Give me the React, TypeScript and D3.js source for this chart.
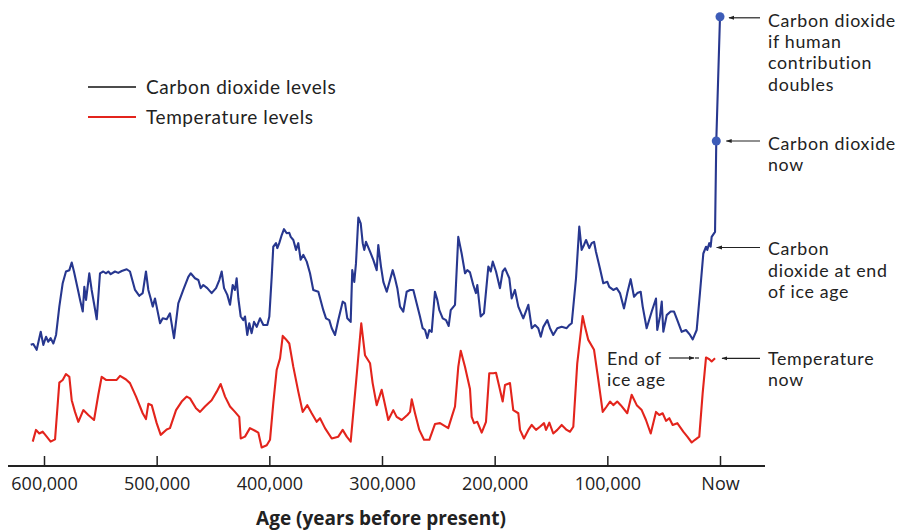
import React, { useEffect, useRef } from "react";
import * as d3 from "d3";

// Age in thousands of years before present (ka); level in relative units (0-100)
const co2Age = [611.8,609.5,606.5,602.9,600.6,598.2,596.2,594.1,591.7,589.3,586.4,583.4,580.5,577.5,575.4,573.4,569.5,568.0,565.6,564.2,562.7,559.8,557.7,555.6,553.2,550.3,547.4,545.0,542.9,540.8,537.0,534.1,531.0,526.6,523.7,519.2,515.4,512.4,509.5,507.4,505.3,503.5,501.5,500.0,497.0,494.6,491.1,488.2,484.6,480.8,476.4,471.9,469.8,466.0,463.0,460.9,458.6,455.1,451.2,447.3,444.4,442.3,440.2,437.3,434.9,432.5,430.5,429.0,427.5,425.4,423.1,421.6,419.6,417.8,415.7,413.6,411.2,408.3,405.3,401.8,400.0,397.9,396.5,394.1,392.9,391.2,389.0,387.0,384.6,382.3,381.0,378.7,376.3,374.3,372.2,369.8,366.8,363.9,361.0,356.5,352.1,349.7,346.8,344.6,341.7,338.8,334.9,332.8,330.8,327.8,326.4,324.6,323.1,321.0,318.9,317.1,315.7,314.2,310.6,307.7,304.7,303.3,300.9,298.8,295.8,292.9,290.5,288.5,286.4,284.0,281.1,278.1,275.1,272.2,269.2,266.3,263.9,261.8,259.8,258.0,255.9,253.0,250.9,249.1,246.1,243.2,240.8,239.0,235.2,232.3,229.3,226.3,224.3,221.9,219.0,216.6,215.4,212.4,209.5,205.6,203.5,201.7,198.8,195.3,192.9,190.8,187.0,184.9,182.0,179.0,174.6,170.1,167.1,164.2,161.3,159.1,156.8,153.3,150.9,148.0,144.4,140.5,136.1,133.8,131.6,127.8,124.9,122.8,120.7,118.9,116.0,113.9,111.8,110.1,106.5,103.6,100.0,98.3,94.7,91.7,88.8,85.2,82.3,79.3,76.3,73.4,70.4,68.6,65.1,60.6,56.8,55.7,53.3,51.7,50.3,47.3,43.8,40.8,37.9,34.0,30.2,26.6,24.2,20.7,17.8,14.8,12.4,11.3,9.5,8.3,7.4,4.4,3.3,0];
const co2Level = [26.7,26.9,25.6,29.6,26.7,28.5,27.4,28.2,27.0,28.9,35.2,40.4,43.0,43.3,45.0,43.0,38.5,36.7,34.1,39.6,36.7,42.6,38.9,35.9,32.4,42.6,43.0,42.6,43.0,42.4,43.0,42.7,43.1,43.5,43.0,38.9,37.6,38.2,43.0,38.9,37.0,35.2,37.0,35.2,31.5,32.6,32.4,33.7,28.2,35.9,38.9,41.8,42.6,41.5,41.1,39.3,40.0,39.3,38.2,39.3,41.1,43.0,39.3,37.8,35.6,40.0,38.9,41.5,37.0,33.0,32.2,33.0,28.9,31.5,29.3,31.8,30.7,32.6,31.1,31.1,33.0,41.8,48.5,49.3,48.2,49.3,51.1,52.4,51.5,51.6,50.7,50.0,47.8,49.3,45.6,46.7,45.2,42.6,38.9,38.5,34.4,32.6,32.2,30.4,28.9,32.2,36.3,35.9,32.6,31.8,43.3,40.7,44.8,55.0,53.7,49.3,47.8,49.6,47.4,45.6,43.3,48.9,44.1,40.7,38.5,41.1,43.3,41.5,39.3,35.2,34.1,38.5,38.9,38.9,35.9,33.0,30.4,30.0,28.2,30.0,29.6,38.5,36.7,34.4,32.6,32.2,30.9,34.4,35.6,50.7,47.0,42.6,43.3,42.8,40.0,38.2,40.0,33.0,33.7,44.1,43.0,45.2,43.0,39.3,43.0,43.7,41.5,37.0,38.9,35.2,32.6,35.6,30.4,31.1,30.4,28.5,30.7,32.2,30.4,28.9,30.4,30.7,30.4,31.1,31.5,41.5,53.0,47.8,48.9,50.0,48.2,49.3,49.6,47.4,43.6,40.4,40.7,39.6,38.9,39.3,38.2,34.8,38.2,41.3,37.4,38.2,38.5,35.2,30.4,34.1,37.0,30.0,33.0,36.3,29.6,33.3,34.1,34.1,32.2,29.6,30.0,28.9,27.9,30.0,38.2,47.0,48.5,47.8,49.3,48.5,50.7,51.8,72.0,99.6];

const tempAge = [610.0,607.1,604.2,601.2,597.6,594.1,590.2,586.4,583.4,580.5,577.5,575.4,572.5,569.5,565.1,560.7,555.6,551.8,548.8,545.0,539.9,535.5,532.5,527.2,523.7,518.3,512.4,509.5,507.4,504.4,500.0,496.4,491.1,488.2,482.8,477.8,473.3,470.4,465.1,461.5,457.1,451.2,446.7,443.2,439.3,434.9,430.5,426.7,425.4,421.6,417.2,412.7,409.8,406.8,402.3,399.4,396.5,393.5,390.5,388.1,385.2,382.3,378.7,374.3,370.4,366.3,362.4,358.0,355.0,350.6,344.6,338.8,334.9,331.3,327.8,323.1,318.4,315.1,310.6,308.3,304.7,300.3,298.2,294.4,290.0,287.0,282.5,277.5,275.1,273.6,270.7,266.9,262.7,258.0,253.0,248.5,241.2,238.1,235.2,232.3,230.1,226.3,221.9,220.4,218.3,215.4,211.5,207.7,204.8,201.2,198.8,195.9,192.9,190.8,186.4,183.5,179.0,177.5,174.0,170.1,167.1,163.3,159.8,156.2,154.4,151.5,148.0,144.4,140.5,136.1,133.1,130.2,126.7,121.9,119.8,116.9,111.8,108.0,104.1,100.6,97.6,94.7,91.2,88.1,82.3,78.4,73.9,69.5,65.7,61.5,56.8,53.9,50.9,47.9,45.0,42.0,37.9,32.6,29.0,25.1,22.2,18.4,15.4,12.4,9.5,7.4,4.4];
const tempLevel = [5.2,7.8,7.0,7.4,6.3,5.2,5.7,18.3,18.9,20.2,19.6,14.4,11.8,9.6,12.2,11.1,10.0,15.6,19.6,18.9,18.9,18.9,19.8,19.0,18.2,15.2,11.5,10.2,13.6,13.3,9.3,6.7,7.9,8.2,12.2,14.1,15.2,14.8,12.6,11.8,13.0,14.4,16.3,18.0,15.2,13.0,11.8,10.7,5.9,6.3,8.2,7.6,7.2,3.9,4.4,5.6,13.7,21.1,23.7,28.7,27.9,27.0,21.8,16.3,11.8,13.3,11.5,9.6,10.4,8.2,5.9,6.3,7.8,6.3,5.2,18.2,31.5,24.4,22.6,18.2,13.3,16.7,14.4,10.0,12.2,10.7,10.0,11.1,11.8,14.6,11.5,7.8,5.6,5.6,9.1,9.3,8.2,10.7,13.0,21.8,25.4,21.8,16.9,10.7,9.3,9.6,7.2,9.6,20.4,20.4,20.5,17.4,14.1,17.8,18.2,12.2,11.5,7.8,5.9,7.8,8.9,7.8,8.5,9.3,7.8,9.4,7.0,7.8,8.9,7.8,7.4,8.5,22.6,33.1,30.7,27.8,25.6,18.9,11.8,13.0,14.1,13.3,14.1,13.3,11.5,15.6,13.3,12.2,10.0,7.0,11.8,11.1,11.5,9.8,10.4,8.9,9.3,7.4,6.3,5.0,5.6,6.3,15.9,23.9,23.5,23.0,23.7];

const tickAges = [600, 500, 400, 300, 200, 100, 0];
const tickLabels = ["600,000", "500,000", "400,000", "300,000", "200,000", "100,000", "Now"];

const legendLabels = ["Carbon dioxide levels", "Temperature levels"];
const xAxisTitle = "Age (years before present)";

const annoDoubleLines = ["Carbon dioxide", "if human", "contribution", "doubles"];
const annoNowLines = ["Carbon dioxide", "now"];
const annoIceCo2Lines = ["Carbon", "dioxide at end", "of ice age"];
const annoTempNowLines = ["Temperature", "now"];
const annoEndIceLines = ["End of", "ice age"];

const BLUE = "#27378f";
const DOT = "#3d5cb8";
const RED = "#e3241c";
const FONT = "'Open Sans', 'Noto Sans', sans-serif";
const AFONT = "Lato, 'Open Sans', sans-serif";

export default function App() {
  const axisRef = useRef<SVGGElement | null>(null);

  const x = d3.scaleLinear().domain([600, 0]).range([44, 720]);
  const y = d3.scaleLinear().domain([0, 100]).range([465, 15]);

  const co2 = co2Age.map((a, i) => [a, co2Level[i]] as [number, number]);
  const temp = tempAge.map((a, i) => [a, tempLevel[i]] as [number, number]);
  const line = d3.line<[number, number]>().x((d) => x(d[0])).y((d) => y(d[1]));

  useEffect(() => {
    if (!axisRef.current) return;
    const g = d3.select(axisRef.current);
    g.selectAll("*").remove();
    const axis = d3
      .axisBottom(x)
      .tickValues(tickAges)
      .tickFormat((_d, i) => tickLabels[i])
      .tickSizeInner(-10)
      .tickSizeOuter(0)
      .tickPadding(0);
    g.call(axis as any);
    g.select(".domain").remove();
    g.selectAll(".tick line").attr("stroke", "#222").attr("stroke-width", 1.5);
    g.selectAll(".tick text")
      .attr("fill", "#222")
      .attr("font-family", FONT)
      .attr("font-size", 18)
      .attr("y", 24)
      .attr("dy", null);
  }, []);

  const last = co2[co2.length - 1];
  const nowPt = co2[co2.length - 2];
  const iceEnd = co2[co2.length - 4];
  const tempNow = temp[temp.length - 1];

  const textX = 768;
  const fs = 17.8;
  const ls = 0.7;

  const arrow = (x1: number, x2: number, yy: number, key: string) => (
    <line key={key} x1={x1} y1={yy} x2={x2} y2={yy} stroke="#222" strokeWidth={1.2} markerEnd="url(#ah)" />
  );

  const multi = (lines: string[], xx: number, y0: number, dy: number, key: string) => (
    <g key={key}>
      {lines.map((l, i) => (
        <text key={i} x={xx} y={y0 + i * dy} fontFamily={AFONT} fontSize={fs} letterSpacing={ls} fill="#222">
          {l}
        </text>
      ))}
    </g>
  );

  return (
    <svg
      width={908}
      height={532}
      style={{ position: "absolute", left: 0, top: 0, background: "#fff" }}
    >
      <defs>
        <marker id="ah" viewBox="0 0 10 10" refX="9" refY="5" markerWidth="6" markerHeight="6" orient="auto" markerUnits="userSpaceOnUse">
          <path d="M0,1.5 L10,5 L0,8.5 Z" fill="#222" />
        </marker>
      </defs>
      <rect x={0} y={0} width={908} height={532} fill="#fff" />

      {/* legend */}
      <line x1={88} x2={136} y1={87} y2={87} stroke="#111" strokeWidth={1.6} />
      <text x={146} y={93.5} fontFamily={AFONT} fontSize={19} letterSpacing={0.6} fill="#222">{legendLabels[0]}</text>
      <line x1={88} x2={136} y1={117} y2={117} stroke={RED} strokeWidth={2} />
      <text x={146} y={123.5} fontFamily={AFONT} fontSize={19} letterSpacing={0.6} fill="#222">{legendLabels[1]}</text>

      {/* series */}
      <path d={line(temp) || ""} fill="none" stroke={RED} strokeWidth={2.1} strokeLinejoin="round" />
      <path d={line(co2) || ""} fill="none" stroke={BLUE} strokeWidth={2.1} strokeLinejoin="round" />
      <circle cx={x(nowPt[0])} cy={y(nowPt[1])} r={4.5} fill={DOT} />
      <circle cx={x(last[0])} cy={y(last[1])} r={4.5} fill={DOT} />

      {/* axis */}
      <line x1={8} x2={765} y1={466} y2={466} stroke="#222" strokeWidth={2} />
      <g ref={axisRef} transform="translate(0,466)" />
      <text x={381} y={525} textAnchor="middle" fontFamily={FONT} fontSize={19} fontWeight={700} fill="#222">
        {xAxisTitle}
      </text>

      {/* annotations */}
      {arrow(760, x(last[0]) + 9, y(last[1]) + 1, "a1")}
      {multi(annoDoubleLines, textX, 26.5, 21.4, "t1")}
      {arrow(760, x(nowPt[0]) + 10, y(nowPt[1]), "a2")}
      {multi(annoNowLines, textX, 150, 21.4, "t2")}
      {arrow(760, x(iceEnd[0]) + 5, 247.5, "a3")}
      {multi(annoIceCo2Lines, textX, 255, 21.5, "t3")}
      {arrow(760, x(tempNow[0]) + 7, y(tempNow[1]), "a4")}
      {multi(annoTempNowLines, textX, 365, 21.4, "t4")}
      {arrow(669, 694, 358, "a5")}
      <line x1={695} x2={699} y1={358} y2={358} stroke="#222" strokeWidth={1.2} />
      {multi(annoEndIceLines, 607, 365, 21.4, "t5")}
    </svg>
  );
}
